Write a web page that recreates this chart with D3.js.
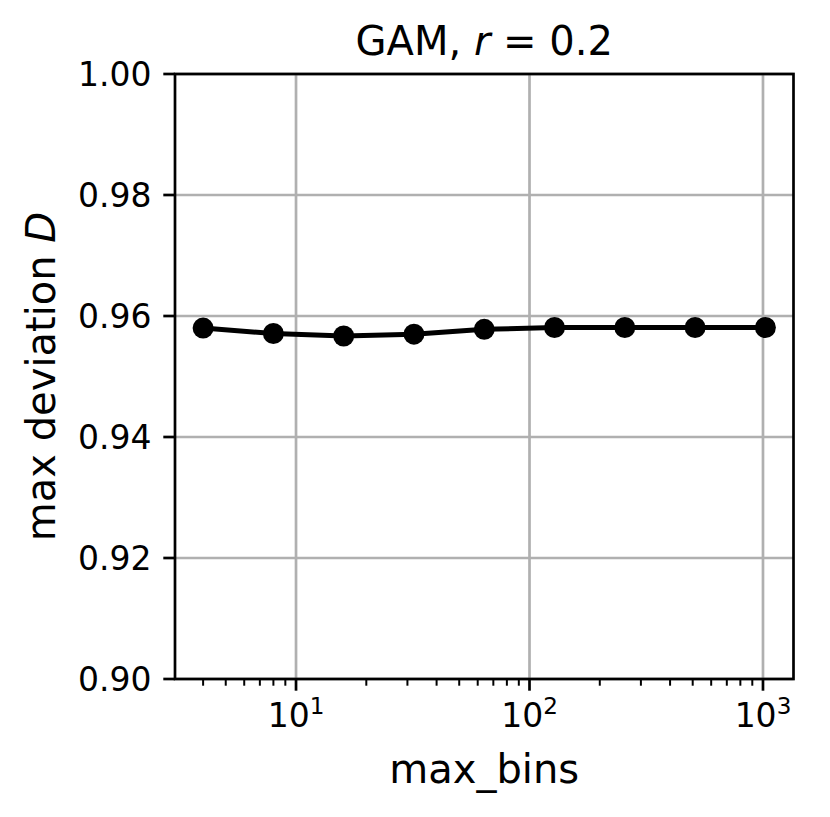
<!DOCTYPE html>
<html>
<head>
<meta charset="utf-8">
<script src="https://cdn.jsdelivr.net/npm/d3@7"></script>
<style>
  html, body { margin: 0; padding: 0; background: #fff; }
  text { font-family: "DejaVu Sans", sans-serif; fill: #000; }
</style>
</head>
<body>
<svg id="chart" width="830" height="817"></svg>
<script>
// ---- data ----
const maxBins = [4, 8, 16, 32, 64, 128, 256, 512, 1024];
const maxDeviation = [0.9580, 0.9571, 0.9567, 0.9570, 0.9578, 0.9581, 0.9581, 0.9581, 0.9581];
const yTicks = [0.90, 0.92, 0.94, 0.96, 0.98, 1.00];
const xTicks = [10, 100, 1000];
const xTickExponents = ["1", "2", "3"];
const titleMain = "GAM, ";
const titleVar = "r";
const titleRest = " = 0.2";
const xLabel = "max_bins";
const yLabelMain = "max deviation ";
const yLabelVar = "D";

// ---- layout ----
const svg = d3.select("#chart");
const L = 175, R = 793.5, T = 74, B = 679;
const lo = Math.log10(d3.min(maxBins)), hi = Math.log10(d3.max(maxBins));
const m = (hi - lo) * 0.05;
const x = d3.scaleLog().domain([Math.pow(10, lo - m), Math.pow(10, hi + m)]).range([L, R]);
const y = d3.scaleLinear().domain([0.90, 1.00]).range([B, T]);

const tickFont = 33, labelFont = 40;
const majorLen = 11.7, minorLen = 6.7, pad = 11.7;

// grid
const g = svg.append("g");
g.selectAll("line.gx").data(xTicks).enter().append("line")
  .attr("x1", d => x(d)).attr("x2", d => x(d)).attr("y1", T).attr("y2", B)
  .attr("stroke", "#b0b0b0").attr("stroke-width", 2.7);
g.selectAll("line.gy").data(yTicks).enter().append("line")
  .attr("x1", L).attr("x2", R).attr("y1", d => y(d)).attr("y2", d => y(d))
  .attr("stroke", "#b0b0b0").attr("stroke-width", 2.7);

// line + markers
const line = d3.line().x((d, i) => x(maxBins[i])).y(d => y(d));
svg.append("path").datum(maxDeviation).attr("d", line)
  .attr("fill", "none").attr("stroke", "#000").attr("stroke-width", 5)
  .attr("stroke-linejoin", "round");
svg.selectAll("circle.pt").data(maxDeviation).enter().append("circle")
  .attr("cx", (d, i) => x(maxBins[i])).attr("cy", d => y(d)).attr("r", 10.5)
  .attr("fill", "#000");

// spines
svg.append("rect").attr("x", L).attr("y", T).attr("width", R - L).attr("height", B - T)
  .attr("fill", "none").attr("stroke", "#000").attr("stroke-width", 2.7);

// y ticks
svg.selectAll("line.yt").data(yTicks).enter().append("line")
  .attr("x1", L - majorLen).attr("x2", L).attr("y1", d => y(d)).attr("y2", d => y(d))
  .attr("stroke", "#000").attr("stroke-width", 2.7);
svg.selectAll("text.yt").data(yTicks).enter().append("text")
  .attr("x", L - majorLen - pad).attr("y", d => y(d))
  .attr("text-anchor", "end").attr("dominant-baseline", "central")
  .attr("font-size", tickFont).text(d => d3.format(".2f")(d));

// x minor ticks
const dom = x.domain();
const minor = [];
for (let e = 0; e <= 3; e++) for (let k = 2; k <= 9; k++) {
  const v = k * Math.pow(10, e);
  if (v >= dom[0] * 0.999 && v <= dom[1]) minor.push(v);
}
svg.selectAll("line.xm").data(minor).enter().append("line")
  .attr("x1", d => x(d)).attr("x2", d => x(d)).attr("y1", B).attr("y2", B + minorLen)
  .attr("stroke", "#000").attr("stroke-width", 2);
svg.selectAll("line.xt").data(xTicks).enter().append("line")
  .attr("x1", d => x(d)).attr("x2", d => x(d)).attr("y1", B).attr("y2", B + majorLen)
  .attr("stroke", "#000").attr("stroke-width", 2.7);
const xt = svg.selectAll("text.xt").data(xTicks).enter().append("text")
  .attr("x", d => x(d)).attr("y", B + majorLen + pad + 25)
  .attr("text-anchor", "middle").attr("font-size", tickFont);
xt.append("tspan").text("10");
xt.append("tspan").attr("dy", -13).attr("font-size", tickFont * 0.7)
  .text((d, i) => xTickExponents[i]);

// title
const t = svg.append("text").attr("x", (L + R) / 2).attr("y", 55)
  .attr("text-anchor", "middle").attr("font-size", labelFont);
t.append("tspan").text(titleMain);
t.append("tspan").attr("font-style", "italic").text(titleVar);
t.append("tspan").text(titleRest);

// x label
svg.append("text").attr("x", (L + R) / 2).attr("y", 783)
  .attr("text-anchor", "middle").attr("font-size", labelFont).text(xLabel);

// y label
const yl = svg.append("text").attr("transform", `translate(55,${(T + B) / 2}) rotate(-90)`)
  .attr("text-anchor", "middle").attr("font-size", labelFont);
yl.append("tspan").text(yLabelMain);
yl.append("tspan").attr("font-style", "italic").text(yLabelVar);
</script>
</body>
</html>
